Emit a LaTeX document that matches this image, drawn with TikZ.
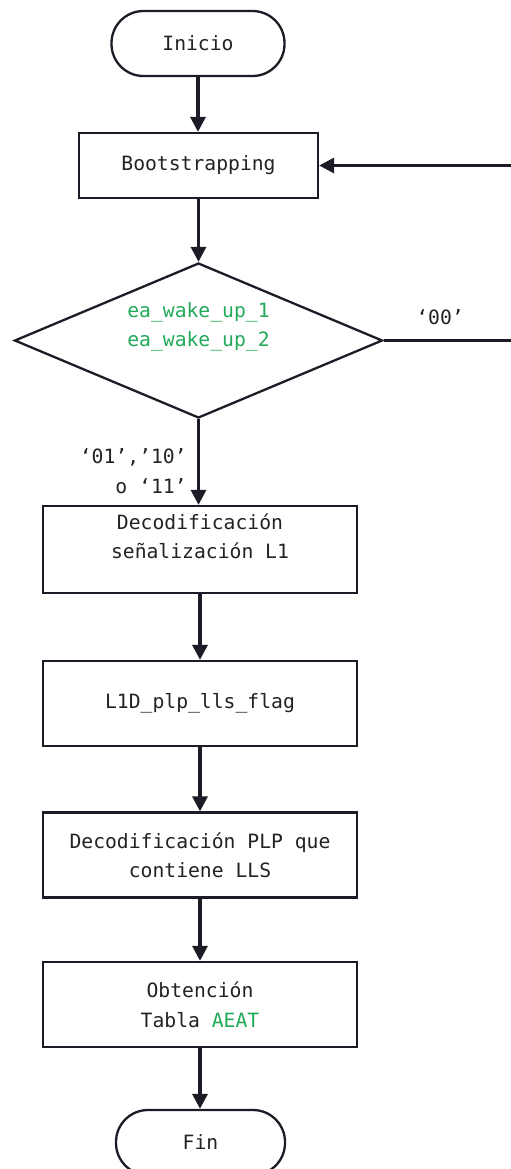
\documentclass[tikz,border=0pt]{standalone}
\usepackage{fontspec}
\setmonofont{DejaVu Sans Mono}
\usetikzlibrary{shapes.geometric,arrows.meta}
\definecolor{ink}{HTML}{1C1C26}
\definecolor{txt}{HTML}{222222}
\definecolor{grn}{HTML}{22A95A}
\begin{document}
\begin{tikzpicture}[x=0.5pt,y=-0.5pt,
  font=\ttfamily\fontsize{9.85}{14.75}\selectfont, text=txt,
  term/.style={draw=ink, line width=1.15pt, rounded corners=16pt, minimum width=86.5pt, minimum height=32.5pt, inner sep=0pt},
  proc/.style={draw=ink, line width=1.15pt, minimum width=157pt, minimum height=42.5pt, inner sep=0pt, align=center},
  arr/.style={draw=ink, line width=1.65pt, -{Triangle[length=7.5pt,width=7.5pt]}},
  lbl/.style={inner sep=0pt, align=center}]
\useasboundingbox (0,0) rectangle (510,1169);
\node[term] (ini) at (198,43.5) {Inicio};
\node[proc, minimum width=119.5pt, minimum height=32.5pt] (boot) at (198.5,165.5) {Bootstrapping};
\node[diamond, draw=ink, line width=1.15pt, minimum width=184pt, minimum height=77.5pt, inner sep=0pt] (dec) at (198.5,340.5) {};
\node[lbl, text=grn] (dect) at (198.5,327) {ea\_wake\_up\_1\\ea\_wake\_up\_2};
\node[proc, minimum height=43.5pt] (l1) at (200,549.5) {};
\node[lbl] (l1t) at (200,536) {Decodificación\\señalización L1};
\node[proc] (flag) at (200,703.5) {L1D\_plp\_lls\_flag};
\node[proc] (plp) at (200,855) {Decodificación PLP que\\contiene LLS};
\node[proc] (aeat) at (200,1004.5) {Obtención\\Tabla \textcolor{grn}{AEAT}};
\node[term, minimum width=84.5pt] (fin) at (200.5,1142.5) {Fin};
\node[lbl] (l00) at (440,317) {‘00’};
\node[lbl, anchor=east, align=right] (lyes) at (187,471) {‘01’,’10’\\o ‘11’};
\coordinate (rt) at (513,340.5);
\draw[arr] (ini) -- (ini |- boot.north);
\draw[arr] (boot) -- (boot |- dec.north);
\draw[arr] (dec.south) -- (dec.south |- l1.north);
\draw[arr] (l1) -- (flag);
\draw[arr] (flag) -- (plp);
\draw[arr] (plp) -- (aeat);
\draw[arr] (aeat) -- (aeat |- fin.north);
\draw[arr] (dec.east) -- (rt) |- (boot.east);
\end{tikzpicture}
\end{document}
